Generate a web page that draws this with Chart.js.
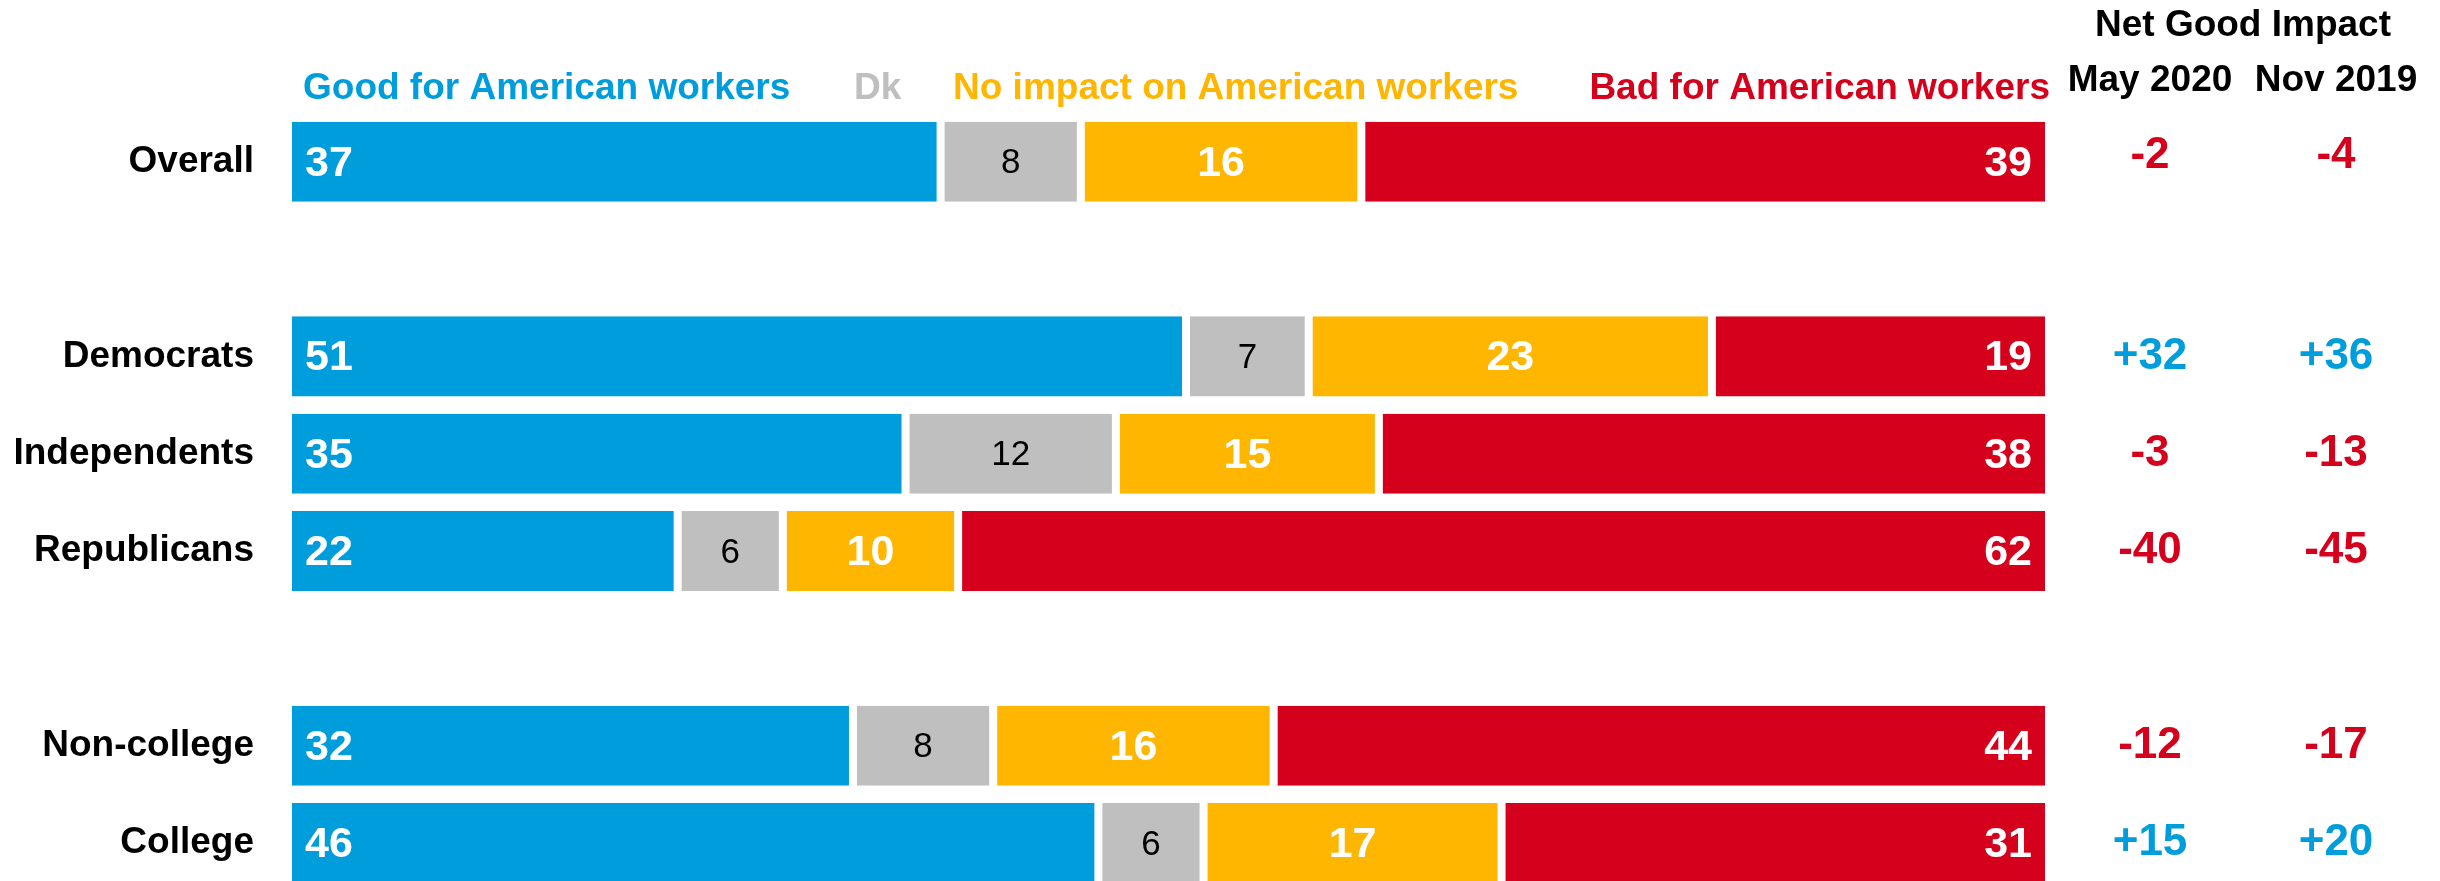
<!DOCTYPE html>
<html>
<head>
<meta charset="utf-8">
<script src="https://cdn.jsdelivr.net/npm/chart.js@4"></script>
<style>
  html, body { margin: 0; padding: 0; background: #fff; overflow: hidden; }
  canvas { display: block; }
</style>
</head>
<body>
<!-- canvas is taller than the window: the y ticks padding reserves room under the last row, which the reference crops off -->
<canvas id="myChart" width="2440" height="952"></canvas>
<script>
    const categories = ['Overall', '', 'Democrats', 'Independents', 'Republicans', '', 'Non-college', 'College'];
    const good = [37, null, 51, 35, 22, null, 32, 46];
    const dk = [8, null, 7, 12, 6, null, 8, 6];
    const noImpact = [16, null, 23, 15, 10, null, 16, 17];
    const bad = [39, null, 19, 38, 62, null, 44, 31];
    const netMay2020 = [-2, null, 32, -3, -40, null, -12, 15];
    const netNov2019 = [-4, null, 36, -13, -45, null, -17, 20];
    const seriesNames = ['Good for American workers', 'Dk', 'No impact on American workers', 'Bad for American workers'];
    const netColumns = ['May 2020', 'Nov 2019'];

    const BLUE = '#009DDD', GRAY = '#BFBFBF', YELLOW = '#FFB600', RED = '#D5001C';
    const FONT = '"Liberation Sans", Arial, sans-serif';

    let ctx = document.getElementById('myChart');

    // value labels inside the bars
    const barLabels = {
      id: 'barLabels',
      afterDatasetsDraw(chart) {
        const c = chart.ctx;
        c.save();
        c.textBaseline = 'middle';
        chart.data.datasets.forEach((ds, di) => {
          const meta = chart.getDatasetMeta(di);
          meta.data.forEach((bar, i) => {
            const v = ds.data[i];
            if (v == null) return;
            const left = Math.min(bar.x, bar.base), right = Math.max(bar.x, bar.base);
            const y = bar.y + 2;
            if (di === 1) {
              c.font = '35px ' + FONT;
              c.fillStyle = '#000';
            } else {
              c.font = 'bold 43px ' + FONT;
              c.fillStyle = '#fff';
            }
            if (di === 0) {
              c.textAlign = 'left';
              c.fillText(v, left + 13, y);
            } else if (di === 3) {
              c.textAlign = 'right';
              c.fillText(v, right - 13, y);
            } else {
              c.textAlign = 'center';
              c.fillText(v, (left + right) / 2, y);
            }
          });
        });
        c.restore();
      }
    };

    // legend row, net columns and header
    const extras = {
      id: 'extras',
      afterDraw(chart) {
        const c = chart.ctx;
        const area = chart.chartArea;
        const yScale = chart.scales.y;
        c.save();
        c.textBaseline = 'middle';
        c.font = 'bold 37px ' + FONT;

        // legend labels above the bars
        const legendY = 89;
        c.textAlign = 'left';
        c.fillStyle = BLUE; c.fillText(seriesNames[0], area.left + 11, legendY);
        c.fillStyle = GRAY; c.fillText(seriesNames[1], 854, legendY);
        c.fillStyle = YELLOW; c.fillText(seriesNames[2], 953, legendY);
        c.textAlign = 'right';
        c.fillStyle = RED; c.fillText(seriesNames[3], area.right + 5, legendY);

        // net good impact header
        const col1 = area.right + 105, col2 = area.right + 291;
        c.textAlign = 'center';
        c.fillStyle = '#000';
        c.fillText('Net Good Impact', (col1 + col2) / 2, 26);
        c.fillText(netColumns[0], col1, 81);
        c.fillText(netColumns[1], col2, 81);

        // net values
        c.font = 'bold 44px ' + FONT;
        [netMay2020, netNov2019].forEach((arr, k) => {
          const x = k === 0 ? col1 : col2;
          arr.forEach((v, i) => {
            if (v == null) return;
            const y = yScale.getPixelForValue(i) - (i === 0 ? 6 : 0);
            c.fillStyle = v > 0 ? BLUE : RED;
            c.fillText((v > 0 ? '+' : '') + v, x, y);
          });
        });
        c.restore();
      }
    };

    const noBorder = { top: 0, bottom: 0 };

    const myChart = new Chart(ctx, {
      type: 'bar',
      data: {
        labels: categories,
        datasets: [{
          label: seriesNames[0],
          data: good,
          backgroundColor: BLUE,
          borderWidth: { ...noBorder, left: 0, right: 4 }
        }, {
          label: seriesNames[1],
          data: dk,
          backgroundColor: GRAY,
          borderWidth: { ...noBorder, left: 4, right: 4 }
        }, {
          label: seriesNames[2],
          data: noImpact,
          backgroundColor: YELLOW,
          borderWidth: { ...noBorder, left: 4, right: 4 }
        }, {
          label: seriesNames[3],
          data: bad,
          backgroundColor: RED,
          borderWidth: { ...noBorder, left: 4, right: 0 }
        }]
      },
      options: {
        indexAxis: 'y',
        animation: false,
        responsive: false,
        datasets: {
          bar: {
            barPercentage: 0.822,
            categoryPercentage: 1,
            borderColor: '#fff',
            borderSkipped: false
          }
        },
        layout: {
          padding: {
            left: 0,
            right: 395,
            top: 113,
            bottom: 0
          }
        },
        scales: {
          x: {
            stacked: true,
            min: 0,
            max: 100,
            display: false
          },
          y: {
            stacked: true,
            grid: { display: false, drawTicks: false },
            border: { display: false },
            ticks: {
              padding: 38,
              color: '#000',
              font: { family: FONT, size: 37, weight: 'bold' }
            },
            afterFit: function (scale) {
              scale.width = 292;
            }
          }
        },
        plugins: {
          legend: { display: false },
          tooltip: { enabled: false }
        }
      },
      plugins: [barLabels, extras]
    });
</script>
</body>
</html>
